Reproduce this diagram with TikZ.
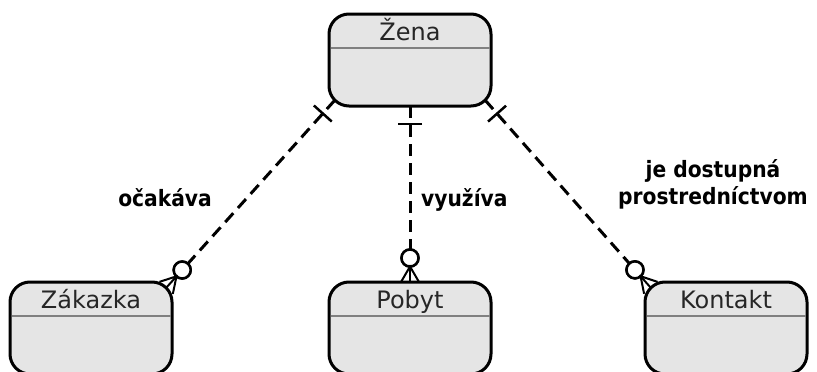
\documentclass[tikz,border=0pt]{standalone}
\usepackage{fontspec}
\setmainfont{DejaVu Sans}
\newfontfamily\condfont{DejaVu Sans Condensed}
\usetikzlibrary{calc}
\tikzset{
 ent/.style={draw=black, line width=3pt, fill=gray!20, rounded corners=20pt, minimum width=162pt, minimum height=92pt, inner sep=0pt, outer sep=0pt},
 ttl/.style={anchor=base, text=black!85, font=\fontsize{24}{28}\selectfont, inner sep=0pt},
 divider/.style={draw=gray, line width=2pt},
 rel/.style={line width=3pt, dash pattern=on 12pt off 7pt},
 onebar/.style={line width=2.5pt},
 crow/.style={line width=2pt},
 ring/.style={circle, draw, line width=2.5pt, fill=white, minimum size=17pt, inner sep=0pt, outer sep=0pt},
 lbl/.style={font=\condfont\fontsize{22.5}{27}\selectfont\bfseries, inner sep=0pt},
}
\begin{document}
\begin{tikzpicture}[x=1pt,y=-1pt]
\useasboundingbox (0,0) rectangle (817,372);
\clip (0,0) rectangle (817,372);
% entities
\node[ent] (Zena) at (410,60) {};
\node[ent] (Zak) at (91,328) {};
\node[ent] (Pob) at (410,328) {};
\node[ent] (Kon) at (726,328) {};
\foreach \e/\t in {Zena/Žena, Zak/Zákazka, Pob/Pobyt, Kon/Kontakt}{
  \node[ttl] (\e-t) at ($(\e.north)+(0,26)$) {\t};
  \draw[divider] ($(\e.north west)+(1.5,34)$) -- ($(\e.north east)+(-1.5,34)$);
}
% connector end points
\coordinate (A1) at ($(Zena.south west)+(5.86,-5.86)$);
\coordinate (B1) at ($(Zak.north east)+(-5.86,5.86)$);
\coordinate (A2) at (Zena.south);
\coordinate (B2) at (Pob.north);
\coordinate (A3) at ($(Zena.south east)+(-5.86,-5.86)$);
\coordinate (B3) at ($(Kon.north west)+(5.86,5.86)$);
\foreach \i in {1,2,3}{
  \node[ring] (R\i) at ($(B\i)!24pt!(A\i)$) {};
  \draw[rel] (A\i) -- (R\i);
  \node[ring] at (R\i) {};
  \draw[onebar] ($(A\i)!18pt!(B\i)!12pt!90:(B\i)$) -- ($(A\i)!18pt!(B\i)!12pt!-90:(B\i)$);
  \coordinate (P\i) at ($(B\i)!15.5pt!(A\i)$);
  \draw[crow] ($(B\i)!9pt!90:(A\i)$) -- (P\i) -- ($(B\i)!9pt!-90:(A\i)$);
  \draw[crow] (P\i) -- (B\i);
}
% labels
\node[lbl, anchor=base east] (L1) at (212,206) {očakáva};
\node[lbl, anchor=base west] (L2) at (421,206) {využíva};
\node[lbl, anchor=base, align=center] (L3) at (713,204) {je dostupná\\prostredníctvom};
\end{tikzpicture}
\end{document}
